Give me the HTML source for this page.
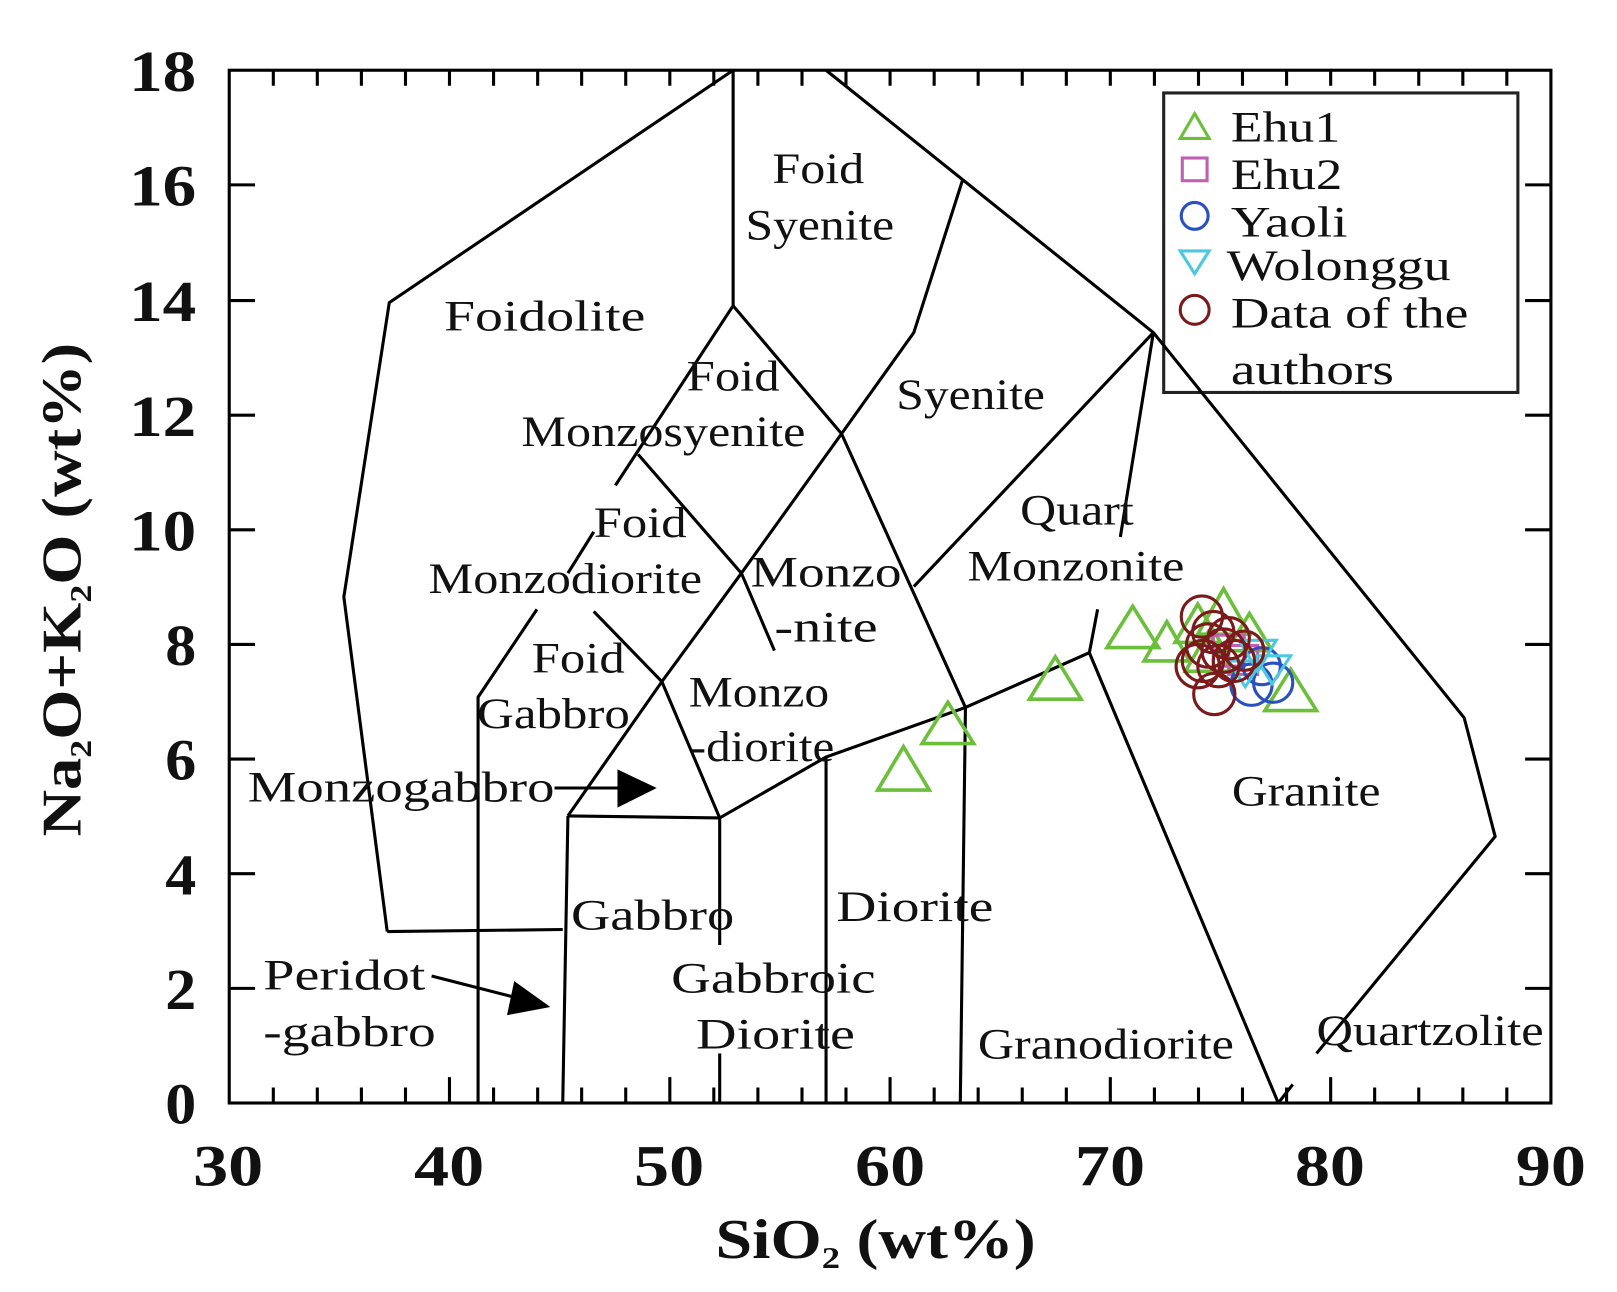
<!DOCTYPE html>
<html><head><meta charset="utf-8"><style>html,body{margin:0;padding:0;background:#fff}svg{display:block}</style></head>
<body>
<svg width="1617" height="1292" viewBox="0 0 1566 1251" preserveAspectRatio="none" xmlns="http://www.w3.org/2000/svg" font-family="Liberation Serif, serif">
<rect width="1566" height="1251" fill="#fff"/>
<g stroke="#000" stroke-width="3" fill="none" stroke-linejoin="miter">
<rect x="222" y="68" width="1280" height="1000"/>
</g>
<g stroke="#000" stroke-width="3">
<path d="M264.7 1068v-15M307.3 1068v-15M350 1068v-15M392.7 1068v-15M435.3 1068v-25M478 1068v-15M520.7 1068v-15M563.3 1068v-15M606 1068v-15M648.7 1068v-25M691.3 1068v-15M734 1068v-15M776.7 1068v-15M819.3 1068v-15M862 1068v-25M904.7 1068v-15M947.3 1068v-15M990 1068v-15M1032.7 1068v-15M1075.3 1068v-25M1118 1068v-15M1160.7 1068v-15M1203.3 1068v-15M1246 1068v-15M1288.7 1068v-25M1331.3 1068v-15M1374 1068v-15M1416.7 1068v-15M1459.3 1068v-15"/>
<path d="M264.7 68v15M307.3 68v15M350 68v15M392.7 68v15M435.3 68v15M478 68v15M520.7 68v15M563.3 68v15M606 68v15M648.7 68v15M691.3 68v15M734 68v15M776.7 68v15M819.3 68v15M862 68v15M904.7 68v15M947.3 68v15M990 68v15M1032.7 68v15M1075.3 68v15M1118 68v15M1160.7 68v15M1203.3 68v15M1246 68v15M1288.7 68v15M1331.3 68v15M1374 68v15M1416.7 68v15M1459.3 68v15"/>
<path d="M222 957h25M222 846h25M222 735h25M222 624h25M222 513h25M222 402h25M222 291h25M222 179h25"/>
<path d="M1502 957h-25M1502 846h-25M1502 735h-25M1502 624h-25M1502 513h-25M1502 402h-25M1502 291h-25M1502 179h-25"/>
</g>
<rect x="1127" y="90" width="343" height="290" fill="#fff" stroke="#222" stroke-width="3"/>
<g stroke="#000" stroke-width="3" fill="none">
<polyline points="375,902 333,578 377,293 710,68"/>
<polyline points="710,68 710,296"/>
<polyline points="800,68 1117,322 1418,695 1448,810 1275,1020"/>
<polyline points="1252,1050 1238,1068"/>
<polyline points="1055,632 1238,1068"/>
<polyline points="1117,322 1085,520"/>
<polyline points="1063,590 1055,632"/>
<polyline points="697,792 800,733 935,685 1055,632"/>
<polyline points="935,685 930,1068"/>
<polyline points="815,420 935,685"/>
<polyline points="710,296 815,420 885,322 932,175"/>
<polyline points="885,568 1117,322"/>
<polyline points="815,420 718,555 641,660 550,790"/>
<polyline points="710,296 596,470"/>
<polyline points="575,515 550,555"/>
<polyline points="520,590 463,675 463,1068"/>
<polyline points="618,440 718,555 750,630"/>
<polyline points="575,592 641,660 697,792"/>
<polyline points="550,790 697,792"/>
<polyline points="550,790 545,1068"/>
<polyline points="697,792 697,915"/>
<polyline points="697,1020 697,1068"/>
<polyline points="800,733 800,1068"/>
<polyline points="375,902 545,900"/>
<polyline points="537,763 605,763"/>
<polyline points="418,945 500,966"/>
</g>
<polygon points="598,745 636,763 598,782" fill="#000"/>
<polygon points="498,950 533,975 491,983" fill="#000"/>
<g font-size="42" fill="#111" lengthAdjust="spacingAndGlyphs">
<text x="748" y="177" textLength="89" lengthAdjust="spacingAndGlyphs">Foid</text>
<text x="722" y="232" textLength="144" lengthAdjust="spacingAndGlyphs">Syenite</text>
<text x="430" y="320" textLength="195" lengthAdjust="spacingAndGlyphs">Foidolite</text>
<text x="665" y="378" textLength="90" lengthAdjust="spacingAndGlyphs">Foid</text>
<text x="505" y="432" textLength="275" lengthAdjust="spacingAndGlyphs">Monzosyenite</text>
<text x="868" y="396" textLength="144" lengthAdjust="spacingAndGlyphs">Syenite</text>
<text x="575" y="520" textLength="90" lengthAdjust="spacingAndGlyphs">Foid</text>
<text x="415" y="574" textLength="265" lengthAdjust="spacingAndGlyphs">Monzodiorite</text>
<text x="727" y="568" textLength="146" lengthAdjust="spacingAndGlyphs">Monzo</text>
<text x="750" y="621" textLength="100" lengthAdjust="spacingAndGlyphs">-nite</text>
<text x="988" y="508" textLength="110" lengthAdjust="spacingAndGlyphs">Quart</text>
<text x="937" y="562" textLength="210" lengthAdjust="spacingAndGlyphs">Monzonite</text>
<text x="515" y="651" textLength="90" lengthAdjust="spacingAndGlyphs">Foid</text>
<text x="462" y="705" textLength="148" lengthAdjust="spacingAndGlyphs">Gabbro</text>
<text x="667" y="684" textLength="136" lengthAdjust="spacingAndGlyphs">Monzo</text>
<text x="668" y="737" textLength="140" lengthAdjust="spacingAndGlyphs">-diorite</text>
<text x="240" y="776" textLength="297" lengthAdjust="spacingAndGlyphs">Monzogabbro</text>
<text x="1193" y="780" textLength="144" lengthAdjust="spacingAndGlyphs">Granite</text>
<text x="553" y="900" textLength="158" lengthAdjust="spacingAndGlyphs">Gabbro</text>
<text x="810" y="892" textLength="152" lengthAdjust="spacingAndGlyphs">Diorite</text>
<text x="255" y="958" textLength="157" lengthAdjust="spacingAndGlyphs">Peridot</text>
<text x="255" y="1013" textLength="167" lengthAdjust="spacingAndGlyphs">-gabbro</text>
<text x="650" y="961" textLength="198" lengthAdjust="spacingAndGlyphs">Gabbroic</text>
<text x="674" y="1015" textLength="154" lengthAdjust="spacingAndGlyphs">Diorite</text>
<text x="947" y="1025" textLength="248" lengthAdjust="spacingAndGlyphs">Granodiorite</text>
<text x="1275" y="1012" textLength="220" lengthAdjust="spacingAndGlyphs">Quartzolite</text>
<text x="1192" y="137" textLength="106" lengthAdjust="spacingAndGlyphs">Ehu1</text>
<text x="1192" y="183" textLength="108" lengthAdjust="spacingAndGlyphs">Ehu2</text>
<text x="1192" y="229" textLength="113" lengthAdjust="spacingAndGlyphs">Yaoli</text>
<text x="1188" y="271" textLength="217" lengthAdjust="spacingAndGlyphs">Wolonggu</text>
<text x="1192" y="317" textLength="230" lengthAdjust="spacingAndGlyphs">Data of the</text>
<text x="1192" y="372" textLength="158" lengthAdjust="spacingAndGlyphs">authors</text>
</g>
<g fill="none" stroke-width="3">
<polygon points="1143,134 1157,110 1171,134" stroke="#6cbf3a"/>
<rect x="1145" y="153" width="24" height="22" stroke="#c060b0"/>
<circle cx="1157" cy="209" r="13" stroke="#2a50c0"/>
<polygon points="1143,243 1171,243 1157,265" stroke="#4cc8e0"/>
<circle cx="1157" cy="300" r="14" stroke="#7b1a1a"/>
</g>
<g fill="none" stroke="#6cbf3a" stroke-width="3.5">
<polygon points="850,765 875,723 900,765"/>
<polygon points="893,720 918,680 943,720"/>
<polygon points="997,677 1022,636 1047,677"/>
<polygon points="1072,627 1097,587 1122,627"/>
<polygon points="1108,640 1130,602 1152,640"/>
<polygon points="1160,614 1185,570 1210,614"/>
<polygon points="1138,622 1160,585 1182,622"/>
<polygon points="1188,630 1210,594 1232,630"/>
<polygon points="1225,688 1250,648 1275,688"/>
<polygon points="1148,650 1170,612 1192,650"/>
</g>
<g fill="none" stroke="#c060b0" stroke-width="3">
<rect x="1175" y="615" width="30" height="30"/>
<rect x="1190" y="625" width="28" height="28"/>
</g>
<g fill="none" stroke="#2a50c0" stroke-width="3">
<circle cx="1212" cy="663" r="20"/>
<circle cx="1233" cy="661" r="19"/>
<circle cx="1222" cy="645" r="18"/>
</g>
<g fill="none" stroke="#4cc8e0" stroke-width="3">
<polygon points="1200,620 1236,620 1218,650"/>
<polygon points="1215,635 1250,635 1232,662"/>
<polygon points="1190,640 1222,640 1206,665"/>
</g>
<g fill="none" stroke="#7b1a1a" stroke-width="3">
<circle cx="1164" cy="597" r="20"/>
<circle cx="1170" cy="625" r="21"/>
<circle cx="1160" cy="645" r="21"/>
<circle cx="1176" cy="672" r="20"/>
<circle cx="1185" cy="630" r="21"/>
<circle cx="1195" cy="640" r="20"/>
<circle cx="1180" cy="645" r="20"/>
<circle cx="1205" cy="630" r="19"/>
<circle cx="1175" cy="612" r="20"/>
<circle cx="1190" cy="618" r="20"/>
<circle cx="1165" cy="640" r="20"/>
</g>
<g font-weight="bold" font-size="56" fill="#111">
<text x="190" y="1088" text-anchor="end" textLength="30" lengthAdjust="spacingAndGlyphs">0</text>
<text x="190" y="977" text-anchor="end" textLength="30" lengthAdjust="spacingAndGlyphs">2</text>
<text x="190" y="866" text-anchor="end" textLength="30" lengthAdjust="spacingAndGlyphs">4</text>
<text x="190" y="755" text-anchor="end" textLength="30" lengthAdjust="spacingAndGlyphs">6</text>
<text x="190" y="644" text-anchor="end" textLength="30" lengthAdjust="spacingAndGlyphs">8</text>
<text x="125" y="533" textLength="65" lengthAdjust="spacingAndGlyphs">10</text>
<text x="125" y="422" textLength="65" lengthAdjust="spacingAndGlyphs">12</text>
<text x="125" y="311" textLength="65" lengthAdjust="spacingAndGlyphs">14</text>
<text x="125" y="199" textLength="65" lengthAdjust="spacingAndGlyphs">16</text>
<text x="125" y="88" textLength="65" lengthAdjust="spacingAndGlyphs">18</text>
<text x="187" y="1148" textLength="68" lengthAdjust="spacingAndGlyphs">30</text>
<text x="401" y="1148" textLength="68" lengthAdjust="spacingAndGlyphs">40</text>
<text x="614" y="1148" textLength="68" lengthAdjust="spacingAndGlyphs">50</text>
<text x="828" y="1148" textLength="68" lengthAdjust="spacingAndGlyphs">60</text>
<text x="1041" y="1148" textLength="68" lengthAdjust="spacingAndGlyphs">70</text>
<text x="1254" y="1148" textLength="68" lengthAdjust="spacingAndGlyphs">80</text>
<text x="1468" y="1148" textLength="68" lengthAdjust="spacingAndGlyphs">90</text>
<text x="693" y="1218" font-size="54" textLength="310" lengthAdjust="spacingAndGlyphs">SiO<tspan font-size="30" dy="10">2</tspan><tspan dy="-10"> (wt%)</tspan></text>
<text transform="translate(78,810) rotate(-90)" font-size="54" textLength="478" lengthAdjust="spacingAndGlyphs">Na<tspan font-size="30" dy="10">2</tspan><tspan dy="-10">O+K</tspan><tspan font-size="30" dy="10">2</tspan><tspan dy="-10">O (wt%)</tspan></text>
</g>
</svg>
</body></html>
